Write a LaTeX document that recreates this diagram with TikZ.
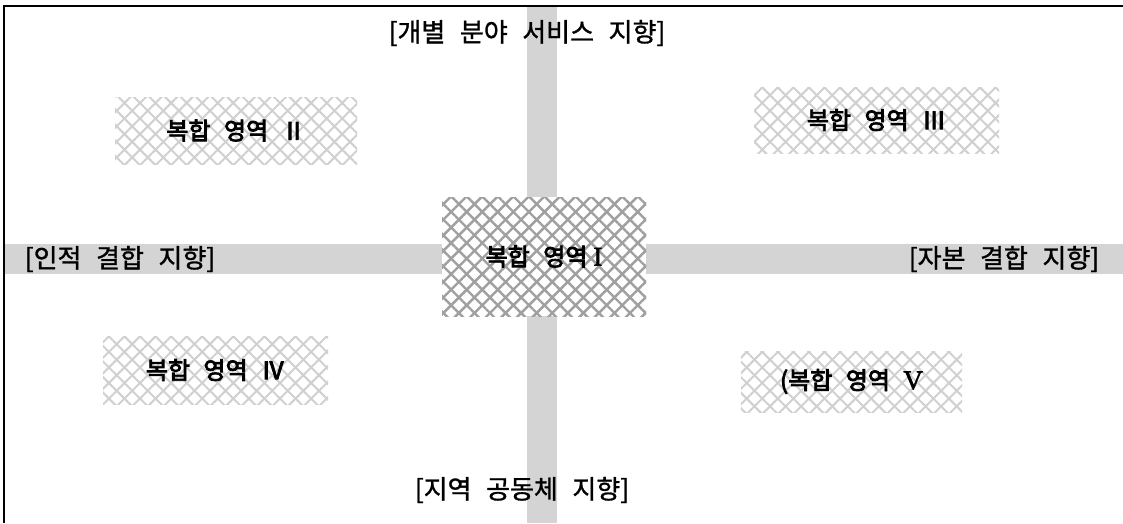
\documentclass[tikz,border=0pt]{standalone}
\usepackage{fontspec}
\newfontfamily\kr[WordSpace=2.5, FakeBold=1.2]{Noto Sans CJK KR}
\newfontfamily\krb[WordSpace=2.5, FakeBold=3.5]{Noto Sans CJK KR}
\newfontfamily\rom[FakeBold=2]{Liberation Serif}
\usetikzlibrary{patterns.meta}
\definecolor{barg}{RGB}{212,212,212}
\definecolor{hatchl}{RGB}{208,208,208}
\definecolor{hatchd}{RGB}{160,160,160}

\begin{document}
\begin{tikzpicture}[x = 1pt, y = -1pt]
%\draw[very thin, color = gray](0, 0) grid (1123, 523);
\tikzstyle{zone} = [rectangle, text centered, inner sep = 0pt,
  font = \krb\fontsize{24}{28}\selectfont,
  preaction = {fill = white},
  preaction = {pattern = {Lines[angle = 45, distance = 11pt, line width = 2pt]}, pattern color = hatchl},
  pattern = {Lines[angle = -45, distance = 11pt, line width = 2pt]}, pattern color = hatchl];
\tikzstyle{core} = [zone,
  preaction = {pattern = {Lines[angle = 45, distance = 11pt, line width = 2.4pt]}, pattern color = hatchd},
  pattern = {Lines[angle = -45, distance = 11pt, line width = 2.4pt]}, pattern color = hatchd];
\tikzstyle{axislabel} = [inner sep = 1pt, font = \kr\fontsize{26}{30}\selectfont];
\useasboundingbox (0, 0) rectangle (1123, 523);
% axes
\fill [barg] (527, 6) rectangle (557, 523);
\fill [barg] (4, 244) rectangle (1123, 274);
\draw [line width = 1.6pt] (4, 523) -- (4, 6) -- (1123, 6);
% zones
\node [core, minimum width = 204, minimum height = 119] at (544, 256.5) (zone1) {복합 영역\hspace{6pt}{\rom\fontsize{27}{28}\selectfont I}};
\node [zone, minimum width = 242, minimum height = 67] at (236, 130.5) (zone2) {복합 영역 Ⅱ};
\node [zone, minimum width = 245, minimum height = 66] at (876.5, 120) (zone3) {복합 영역 Ⅲ};
\node [zone, minimum width = 225, minimum height = 68] at (215.5, 370) (zone4) {복합 영역 Ⅳ};
\node [zone, minimum width = 221, minimum height = 61] at (851.5, 381.5) (zone5) {(복합 영역 {\rom\fontsize{27}{28}\selectfont V}};
% orientations
\node [axislabel] at (527, 33) (top) {[개별 분야 서비스 지향]};
\node [axislabel] at (120, 259) (left) {[인적 결합 지향]};
\node [axislabel] at (1004, 259) (right) {[자본 결합 지향]};
\node [axislabel] at (522, 490) (bottom) {[지역 공동체 지향]};
\end{tikzpicture}
\end{document}
